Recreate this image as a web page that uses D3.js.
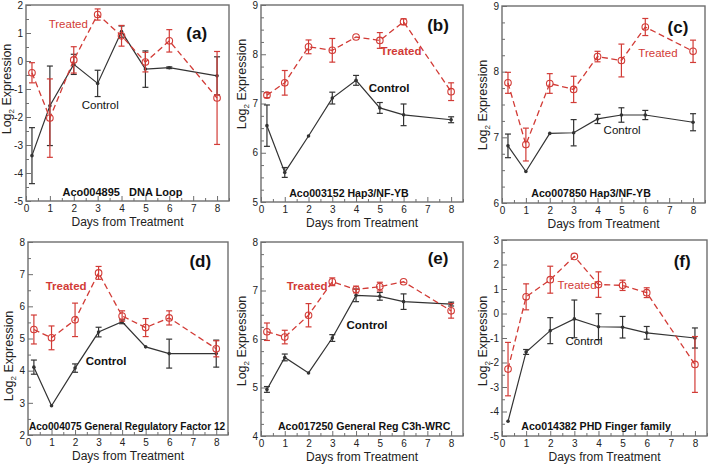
<!DOCTYPE html>
<html><head><meta charset="utf-8">
<script src="https://cdn.jsdelivr.net/npm/d3@7"></script>
<style>
html,body{margin:0;padding:0;background:#fff;}
svg{display:block;font-family:"Liberation Sans",Arial,sans-serif;}
</style></head>
<body><svg id="c" width="709" height="466"></svg>
<script>
// ---------- data ----------
const days = [0.25, 1, 2, 3, 4, 5, 6, 8];
const xTicks = [0, 1, 2, 3, 4, 5, 6, 7, 8];

const panelIds = ["(a)", "(b)", "(c)", "(d)", "(e)", "(f)"];
const panelTitles = ["Aco004895   DNA Loop", "Aco003152 Hap3/NF-YB", "Aco007850 Hap3/NF-YB",
  "Aco004075 General Regulatory Factor 12", "Aco017250 General Reg C3h-WRC", "Aco014382 PHD Finger family"];

const yDomainA = [-5, 2], yDomainB = [5, 9], yDomainC = [6, 9], yDomainD = [2, 8], yDomainE = [4, 8], yDomainF = [-5, 3];

const controlA = [-3.38, -1.6, -0.12, -0.8, 1.05, -0.29, -0.24, -0.53];
const controlErrA = [1.0, 1.42, 0.36, 0.47, 0.2, 0.65, 0.03, 0.68];
const treatedA = [-0.42, -2.04, 0.04, 1.66, 0.9, -0.04, 0.72, -1.32];
const treatedErrA = [0.36, 1.4, 0.47, 0.2, 0.37, 0.35, 0.4, 1.66];

const controlB = [6.55, 5.6, 6.34, 7.11, 7.47, 6.91, 6.77, 6.67];
const controlErrB = [0.42, 0.1, 0.02, 0.12, 0.1, 0.11, 0.22, 0.06];
const treatedB = [7.17, 7.42, 8.15, 8.08, 8.35, 8.28, 8.66, 7.24];
const treatedErrB = [0.05, 0.25, 0.14, 0.24, 0.02, 0.16, 0.06, 0.18];

const controlC = [6.87, 6.48, 7.06, 7.07, 7.28, 7.34, 7.34, 7.23];
const controlErrC = [0.18, 0.01, 0.01, 0.2, 0.07, 0.11, 0.07, 0.13];
const treatedC = [7.83, 6.89, 7.82, 7.73, 8.23, 8.17, 8.68, 8.31];
const treatedErrC = [0.16, 0.25, 0.15, 0.2, 0.08, 0.25, 0.13, 0.17];

const controlD = [4.11, 2.91, 4.08, 5.2, 5.52, 4.74, 4.53, 4.53];
const controlErrD = [0.22, 0.02, 0.13, 0.15, 0.06, 0.02, 0.45, 0.42];
const treatedD = [5.28, 5.02, 5.58, 7.04, 5.7, 5.34, 5.64, 4.68];
const treatedErrD = [0.45, 0.37, 0.52, 0.2, 0.16, 0.28, 0.22, 0.25];

const controlE = [4.96, 5.62, 5.3, 6.02, 6.9, 6.88, 6.77, 6.72];
const controlErrE = [0.06, 0.07, 0.02, 0.07, 0.13, 0.08, 0.16, 0.04];
const treatedE = [6.15, 6.04, 6.49, 7.18, 7.02, 7.08, 7.18, 6.58];
const treatedErrE = [0.18, 0.14, 0.24, 0.08, 0.07, 0.09, 0.02, 0.15];

const controlF = [-4.4, -1.57, -0.7, -0.22, -0.54, -0.56, -0.79, -1.0];
const controlErrF = [0.02, 0.1, 0.53, 0.77, 0.53, 0.44, 0.26, 0.41];
const treatedF = [-2.27, 0.68, 1.38, 2.33, 1.18, 1.15, 0.85, -2.08];
const treatedErrF = [1.09, 0.53, 0.55, 0.02, 0.52, 0.21, 0.2, 1.14];

// ---------- layout / styles ----------
const layout = [
  {L: 26, T: 5, R: 229, B: 201, yt: 89}, {L: 261, T: 5, R: 463, B: 202, yt: 84}, {L: 502, T: 6, R: 705, B: 203, yt: 105},
  {L: 28, T: 242, R: 228, B: 435, yt: 356}, {L: 261, T: 242, R: 463, B: 436, yt: 341}, {L: 502, T: 240, R: 707, B: 436, yt: 341}
];
const yDomains = [yDomainA, yDomainB, yDomainC, yDomainD, yDomainE, yDomainF];
const yMinor = [0.5, 0.25, 0.25, 0.5, 0.25, 0.5];
const controls = [controlA, controlB, controlC, controlD, controlE, controlF];
const controlErrs = [controlErrA, controlErrB, controlErrC, controlErrD, controlErrE, controlErrF];
const treateds = [treatedA, treatedB, treatedC, treatedD, treatedE, treatedF];
const treatedErrs = [treatedErrA, treatedErrB, treatedErrC, treatedErrD, treatedErrE, treatedErrF];
// annotation anchors in data units [day, value]
const annot = [
  {tr: [1.77, 1.32], ct: [3.11, -1.57], id: [7.15, 1.0], ti: [4.04, -4.68], bold: false},
  {tr: [5.89, 8.07], ct: [5.39, 7.31], id: [7.45, 8.59], ti: [3.7, 5.18], bold: true},
  {tr: [6.53, 8.28], ct: [5.03, 7.11], id: [7.37, 8.68], ti: [3.73, 6.15], bold: false},
  {tr: [1.62, 6.63], ct: [3.32, 4.3], id: [7.32, 7.41], ti: [4.21, 2.28], bold: true},
  {tr: [1.94, 7.09], ct: [4.46, 6.29], id: [7.45, 7.67], ti: [4.34, 4.21], bold: true},
  {tr: [3.11, 1.16], ct: [3.4, -1.12], id: [7.47, 2.14], ti: [3.9, -4.59], bold: false}
];
const titleSize = [11, 10.6, 10.6, 10.1, 10.6, 10.6];

const RED = "#d23b36", BLK = "#333", AXIS = "#6e6e6e";
const svg = d3.select("#c");
const fmt = d => String(d);

function drawPanel(i) {
  const lay = layout[i];
  const x = d3.scaleLinear().domain([0, 8.5]).range([lay.L, lay.R]);
  const y = d3.scaleLinear().domain(yDomains[i]).range([lay.B, lay.T]);
  const g = svg.append("g");
  const [y0, y1] = yDomains[i];

  // minor ticks
  const xMinorVals = d3.range(0, 8.5001, 0.5).filter(v => v % 1 !== 0);
  const yMinorVals = d3.range(y0, y1 + 1e-6, yMinor[i]).filter(v => Math.abs(v - Math.round(v)) > 1e-6);
  g.append("g").attr("transform", `translate(0,${lay.B})`)
    .call(d3.axisBottom(x).tickValues(xMinorVals).tickSize(-3).tickFormat(""))
    .call(a => { a.select(".domain").remove(); a.selectAll("line").attr("stroke", AXIS); });
  g.append("g").attr("transform", `translate(${lay.L},0)`)
    .call(d3.axisLeft(y).tickValues(yMinorVals).tickSize(-3).tickFormat(""))
    .call(a => { a.select(".domain").remove(); a.selectAll("line").attr("stroke", AXIS); });

  // major ticks
  const xa = g.append("g").attr("transform", `translate(0,${lay.B})`)
    .call(d3.axisBottom(x).tickValues(xTicks).tickSize(-5).tickPadding(4).tickFormat(fmt));
  xa.select(".domain").remove();
  xa.selectAll("line").attr("stroke", AXIS);
  xa.selectAll("text").attr("font-size", 10).attr("fill", "#222").attr("font-family", "Liberation Sans, Arial, sans-serif");
  const ya = g.append("g").attr("transform", `translate(${lay.L},0)`)
    .call(d3.axisLeft(y).tickValues(d3.range(y0, y1 + 0.001, 1)).tickSize(-5).tickPadding(3).tickFormat(fmt));
  ya.select(".domain").remove();
  ya.selectAll("line").attr("stroke", AXIS);
  ya.selectAll("text").attr("font-size", 10).attr("fill", "#222").attr("font-family", "Liberation Sans, Arial, sans-serif");

  // frame
  g.append("rect").attr("x", lay.L).attr("y", lay.T).attr("width", lay.R - lay.L).attr("height", lay.B - lay.T)
    .attr("fill", "none").attr("stroke", AXIS).attr("stroke-width", 1.4);

  // axis titles
  g.append("text").attr("x", (lay.L + lay.R) / 2).attr("y", lay.B + 25).attr("text-anchor", "middle")
    .attr("font-size", 12).attr("fill", "#222").text("Days from Treatment");
  const yl = g.append("text").attr("transform", `translate(${lay.L - 15},${lay.yt}) rotate(-90)`)
    .attr("text-anchor", "middle").attr("font-size", 12.5).attr("fill", "#222");
  yl.append("tspan").text("Log");
  yl.append("tspan").attr("font-size", 8).attr("dy", 2.5).text("2");
  yl.append("tspan").attr("dy", -2.5).text(" Expression");

  const series = [
    {v: controls[i], e: controlErrs[i], c: BLK, dash: null},
    {v: treateds[i], e: treatedErrs[i], c: RED, dash: "6,3.5"}
  ];
  series.forEach((s, si) => {
    const pts = days.map((d, k) => ({d, v: s.v[k], e: s.e[k]}));
    g.append("path").datum(pts)
      .attr("d", d3.line().x(p => x(p.d)).y(p => y(p.v)))
      .attr("fill", "none").attr("stroke", s.c).attr("stroke-width", si ? 1.3 : 1.2)
      .attr("stroke-dasharray", s.dash);
    const eb = g.append("g").attr("stroke", s.c).attr("stroke-width", 1.2);
    pts.forEach(p => {
      if (p.e < 0.03) return;
      eb.append("line").attr("x1", x(p.d)).attr("x2", x(p.d)).attr("y1", y(p.v - p.e)).attr("y2", y(p.v + p.e));
      [p.v - p.e, p.v + p.e].forEach(yy => eb.append("line")
        .attr("x1", x(p.d) - 3).attr("x2", x(p.d) + 3).attr("y1", y(yy)).attr("y2", y(yy)));
    });
    if (si) {
      g.append("g").selectAll("circle").data(pts).join("circle")
        .attr("cx", p => x(p.d)).attr("cy", p => y(p.v)).attr("r", 3.3)
        .attr("fill", "none").attr("stroke", RED).attr("stroke-width", 1.1);
    } else {
      g.append("g").selectAll("circle").data(pts).join("circle")
        .attr("cx", p => x(p.d)).attr("cy", p => y(p.v)).attr("r", 1.8).attr("fill", BLK);
    }
  });

  const a = annot[i];
  const wt = a.bold ? "bold" : "normal";
  g.append("text").attr("x", x(a.tr[0])).attr("y", y(a.tr[1])).attr("dy", "0.35em").attr("text-anchor", "middle")
    .attr("font-size", 11.5).attr("font-weight", wt).attr("fill", RED).text("Treated");
  g.append("text").attr("x", x(a.ct[0])).attr("y", y(a.ct[1])).attr("dy", "0.35em").attr("text-anchor", "middle")
    .attr("font-size", 11.5).attr("font-weight", wt).attr("fill", "#111").text("Control");
  g.append("text").attr("x", x(a.id[0])).attr("y", y(a.id[1])).attr("dy", "0.35em").attr("text-anchor", "middle")
    .attr("font-size", 17).attr("font-weight", "bold").attr("fill", "#111").text(panelIds[i]);
  g.append("text").attr("x", x(a.ti[0])).attr("y", y(a.ti[1])).attr("dy", "0.35em").attr("text-anchor", "middle")
    .attr("font-size", titleSize[i]).attr("font-weight", "bold").attr("fill", "#111")
    .attr("xml:space", "preserve").style("white-space", "pre").text(panelTitles[i]);
}
for (let i = 0; i < 6; i++) drawPanel(i);
</script></body></html>
